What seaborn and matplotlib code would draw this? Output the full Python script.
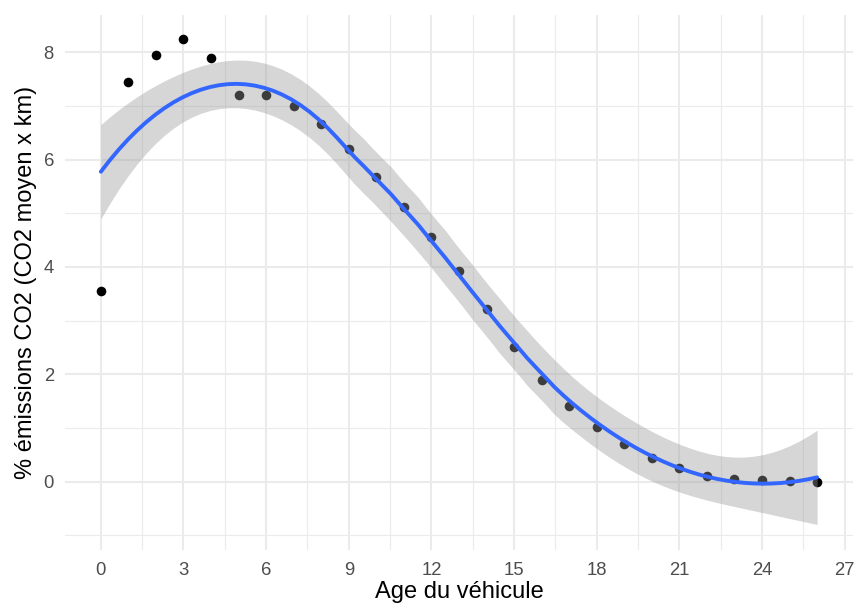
import numpy as np
import pandas as pd
import seaborn as sns
import matplotlib
matplotlib.use("Agg")
import matplotlib.pyplot as plt
from matplotlib.ticker import MultipleLocator

# Data
age = [0, 1, 2, 3, 4, 5, 6, 7, 8, 9, 10, 11, 12, 13, 14, 15, 16, 17, 18, 19, 20,
       21, 22, 23, 24, 25, 26]
emissions = [3.56, 7.44, 7.94, 8.24, 7.89, 7.20, 7.20, 6.99, 6.66, 6.20, 5.68,
             5.12, 4.56, 3.93, 3.21, 2.50, 1.89, 1.41, 1.02, 0.70, 0.45, 0.26,
             0.11, 0.06, 0.03, 0.02, 0.0]

df = pd.DataFrame({"age": age, "emissions": emissions})


# loess (span 0.75, degree 2) like ggplot's geom_smooth default
def loess_rows(x, x0, span=0.75):
    n = len(x)
    q = int(np.floor(n * span))
    rows = []
    for p in x0:
        d = np.abs(x - p)
        h = np.sort(d)[q - 1] * 1.0000001
        w = np.where(d < h, (1 - (d / h) ** 3) ** 3, 0.0)
        X = np.column_stack([np.ones(n), x - p, (x - p) ** 2])
        XtW = X.T * w
        rows.append(np.linalg.solve(XtW @ X, XtW)[0])
    return np.array(rows)


def t975(v):
    z = 1.959964
    g1 = (z**3 + z) / 4
    g2 = (5 * z**5 + 16 * z**3 + 3 * z) / 96
    g3 = (3 * z**7 + 19 * z**5 + 17 * z**3 - 15 * z) / 384
    g4 = (79 * z**9 + 776 * z**7 + 1482 * z**5 - 1920 * z**3 - 945 * z) / 92160
    return z + g1 / v + g2 / v**2 + g3 / v**3 + g4 / v**4


x = df["age"].to_numpy(float)
y = df["emissions"].to_numpy(float)
L = loess_rows(x, x)
res = y - L @ y
M = (np.eye(len(x)) - L).T @ (np.eye(len(x)) - L)
one_delta = np.trace(M)
two_delta = np.trace(M @ M)
s = np.sqrt(np.sum(res**2) / one_delta)
tq = t975(one_delta**2 / two_delta)

grid = np.linspace(x.min(), x.max(), 80)
Lg = loess_rows(x, grid)
fit = Lg @ y
se = s * np.sqrt(np.sum(Lg**2, axis=1))
smooth = pd.DataFrame({"age": grid, "fit": fit,
                       "lo": fit - tq * se, "hi": fit + tq * se})

sns.set_theme(style="white")
plt.rcParams["font.family"] = ["Liberation Sans", "DejaVu Sans"]

fig = plt.figure(figsize=(8.58, 6.08), dpi=100)
ax = fig.add_axes([0.0758, 0.0954, 0.9183, 0.8799])

sns.scatterplot(data=df, x="age", y="emissions", color="black", s=48,
                linewidth=0, ax=ax, zorder=3)
ax.fill_between(smooth["age"], smooth["lo"], smooth["hi"], color="#999999",
                alpha=0.4, linewidth=0, zorder=4)
sns.lineplot(data=smooth, x="age", y="fit", color="#3366FF", linewidth=2.8,
             ax=ax, zorder=5)

ax.set_xlim(-1.3, 27.3)
ax.set_ylim(-1.27, 8.69)
ax.xaxis.set_major_locator(MultipleLocator(3))
ax.xaxis.set_minor_locator(MultipleLocator(1.5))
ax.yaxis.set_major_locator(MultipleLocator(2))
ax.yaxis.set_minor_locator(MultipleLocator(1))
ax.grid(which="major", color="#EBEBEB", linewidth=1.5, zorder=0)
ax.grid(which="minor", color="#EBEBEB", linewidth=0.8, zorder=0)
ax.set_axisbelow(True)
for sp in ax.spines.values():
    sp.set_visible(False)
ax.tick_params(which="both", length=0, labelsize=13.3, labelcolor="#4D4D4D")
ax.tick_params(axis="x", pad=9)
ax.tick_params(axis="y", pad=8)

ax.set_xlabel("Age du véhicule", fontsize=17, color="black", labelpad=1)
ax.set_ylabel("% émissions CO2 (CO2 moyen x km)", fontsize=17, color="black",
              labelpad=5)

fig.savefig("out.png", dpi=100)
